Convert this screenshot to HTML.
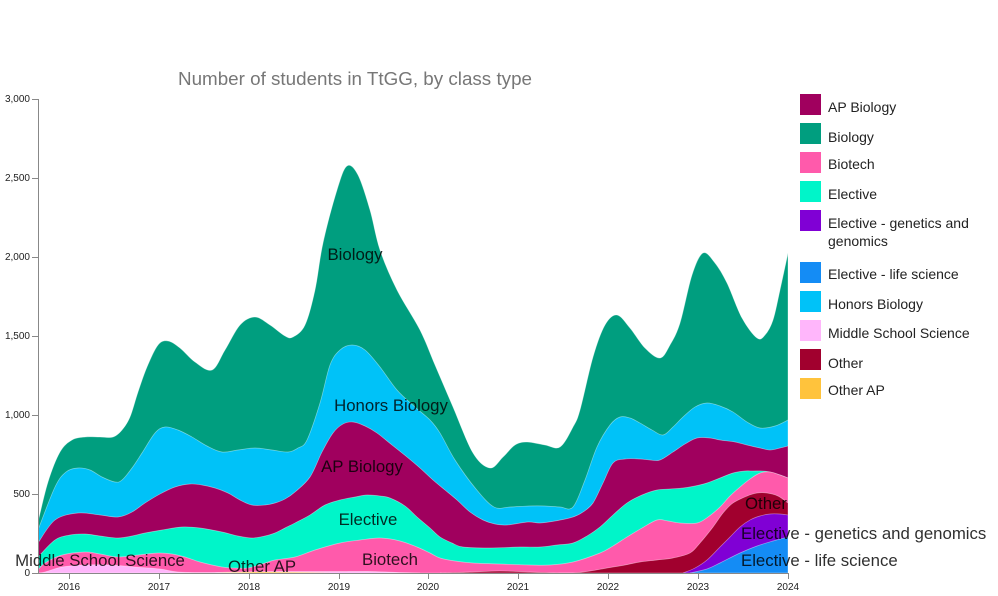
<!DOCTYPE html>
<html><head><meta charset="utf-8"><style>
html,body{margin:0;padding:0;background:#fff;}
svg{display:block;font-family:"Liberation Sans",Arial,sans-serif;}
</style></head><body>
<svg id="s" width="998" height="596" viewBox="0 0 998 596" xmlns="http://www.w3.org/2000/svg">
<defs>
<clipPath id="plot"><rect x="38" y="0" width="750" height="573"/></clipPath>
<clipPath id="plot2"><rect x="0" y="0" width="788" height="596"/></clipPath>
</defs>
<text x="355" y="85" text-anchor="middle" font-size="18.5" fill="#777" textLength="354" lengthAdjust="spacingAndGlyphs">Number of students in TtGG, by class type</text>
<g id="areas" clip-path="url(#plot)"></g>
<!-- y axis -->
<g stroke="#888" stroke-width="1" fill="none">
<path d="M32,99.5H38.5V573.5H32"/>
<path d="M32,178.5H38M32,257.5H38M32,336.5H38M32,415.5H38M32,494.5H38"/>
<path d="M38.5,573.5H788.5"/>
<path d="M69.5,573V579M159.5,573V579M249.5,573V579M339.5,573V579M428.5,573V579M518.5,573V579M608.5,573V579M698.5,573V579M788.5,573V579"/>
</g>
<g font-size="10" fill="#222" text-anchor="end">
<text x="30" y="102">3,000</text>
<text x="30" y="181">2,500</text>
<text x="30" y="260">2,000</text>
<text x="30" y="339">1,500</text>
<text x="30" y="418">1,000</text>
<text x="30" y="497">500</text>
<text x="30" y="576">0</text>
</g>
<g font-size="10" fill="#222" text-anchor="middle">
<text x="69" y="590">2016</text>
<text x="159" y="590">2017</text>
<text x="249" y="590">2018</text>
<text x="339" y="590">2019</text>
<text x="428" y="590">2020</text>
<text x="518" y="590">2021</text>
<text x="608" y="590">2022</text>
<text x="698" y="590">2023</text>
<text x="788" y="590">2024</text>
</g>
<!-- in-chart labels -->
<g font-size="16.8" fill="#000" fill-opacity="0.82">
<text x="355" y="260" text-anchor="middle">Biology</text>
<text x="391" y="411" text-anchor="middle">Honors Biology</text>
<text x="362" y="472" text-anchor="middle">AP Biology</text>
<text x="368" y="525" text-anchor="middle">Elective</text>
<text x="390" y="565" text-anchor="middle">Biotech</text>
<text x="100" y="566" text-anchor="middle">Middle School Science</text>
<text x="262" y="572" text-anchor="middle">Other AP</text>
<text x="745" y="509" clip-path="url(#plot2)">Other</text>
<text x="741" y="539">Elective - genetics and genomics</text>
<text x="741" y="566">Elective - life science</text>
</g>
<!-- legend -->
<g>
<rect x="800" y="94" width="21" height="21" fill="#a0005e"/>
<rect x="800" y="123" width="21" height="21" fill="#009e7f"/>
<rect x="800" y="152" width="21" height="21" fill="#ff5aab"/>
<rect x="800" y="181" width="21" height="21" fill="#00f5c9"/>
<rect x="800" y="210" width="21" height="21" fill="#8000d5"/>
<rect x="800" y="262" width="21" height="21" fill="#148cf5"/>
<rect x="800" y="291" width="21" height="21" fill="#00c2f8"/>
<rect x="800" y="320" width="21" height="21" fill="#ffb6fb"/>
<rect x="800" y="349" width="21" height="21" fill="#a1002e"/>
<rect x="800" y="378" width="21" height="21" fill="#ffc33c"/>
</g>
<g font-size="14" fill="#222">
<text x="828" y="112">AP Biology</text>
<text x="828" y="142">Biology</text>
<text x="828" y="169">Biotech</text>
<text x="828" y="199">Elective</text>
<text x="828" y="228">Elective - genetics and</text>
<text x="828" y="246">genomics</text>
<text x="828" y="279">Elective - life science</text>
<text x="828" y="309">Honors Biology</text>
<text x="828" y="338">Middle School Science</text>
<text x="828" y="368">Other</text>
<text x="828" y="395">Other AP</text>
</g>
</svg>
<script>
(function(){
var B=573;
var layers=[
["#009e7f",[[38,522],[48,482],[60,452],[72,440],[85,437],[100,437],[113,437],[122,430],[130,417],[138,392],[147,367],[158,345],[168,341],[180,348],[195,362],[212,370],[225,350],[240,325],[255,317],[270,325],[285,336],[293,337],[305,325],[315,290],[323,243],[337,190],[347,166],[358,175],[370,210],[380,250],[397,290],[420,330],[435,365],[453,407],[473,453],[490,468],[503,457],[515,445],[527,442],[545,445],[560,447],[573,427],[580,410],[593,357],[605,325],[617,315],[630,328],[645,348],[660,358],[670,345],[680,323],[692,275],[703,253],[715,263],[727,283],[742,318],[757,338],[765,335],[773,320],[780,290],[788,253]]],
["#00c2f8",[[38,530],[55,487],[66,472],[78,468],[90,470],[102,477],[115,482],[122,480],[132,468],[142,453],[155,433],[165,427],[178,430],[192,437],[207,446],[222,452],[238,450],[255,448],[272,450],[288,452],[298,448],[307,440],[320,403],[330,365],[340,350],[352,345],[365,350],[380,367],[397,390],[415,407],[430,420],[440,433],[455,460],[476,489],[494,507],[510,507],[529,506],[545,506],[560,507],[573,507],[585,480],[597,447],[610,425],[620,417],[630,418],[640,423],[652,430],[663,435],[673,427],[683,417],[695,407],[707,403],[720,406],[733,412],[747,422],[760,428],[775,426],[788,420]]],
["#a0005e",[[38,543],[55,520],[78,513],[100,515],[118,517],[132,512],[145,503],[160,494],[175,487],[190,484],[202,485],[215,488],[228,493],[240,500],[252,505],[265,505],[275,503],[285,499],[295,492],[310,477],[322,452],[333,433],[343,424],[353,422],[365,426],[377,433],[392,445],[407,457],[420,468],[433,480],[445,490],[457,500],[470,512],[483,520],[495,524],[507,525],[528,522],[540,523],[555,521],[573,517],[583,512],[593,503],[603,483],[613,463],[625,459],[640,459],[650,460],[660,460],[673,452],[685,444],[697,438],[710,438],[720,440],[735,442],[747,445],[760,448],[770,450],[780,448],[788,446]]],
["#00f5c9",[[38,557],[55,540],[70,535],[85,534],[100,536],[118,538],[132,536],[145,533],[162,530],[182,527],[200,528],[222,532],[238,536],[252,538],[265,536],[275,533],[285,528],[295,523],[310,515],[325,505],[340,500],[355,497],[367,495],[380,496],[390,498],[405,506],[417,517],[430,528],[440,537],[452,543],[463,547],[490,548],[520,547],[540,547],[557,545],[573,543],[587,536],[600,527],[613,515],[627,503],[642,495],[657,490],[670,489],[683,488],[695,486],[707,483],[720,478],[733,473],[745,471],[753,471],[762,471],[770,472],[780,475],[788,478]]],
["#ff5aab",[[38,570],[45,563],[62,555],[85,552],[100,554],[118,557],[138,555],[158,553],[172,554],[185,557],[200,562],[222,567],[235,568],[248,568],[262,564],[275,560],[295,557],[315,550],[340,543],[360,540],[380,538],[400,541],[417,547],[430,553],[440,558],[455,561],[473,563],[500,564],[530,565],[550,565],[573,562],[600,553],[613,546],[627,537],[642,528],[657,520],[668,521],[680,523],[697,523],[708,517],[720,507],[730,496],[740,487],[750,479],[760,473],[770,472],[780,475],[788,478]]],
["#ffb6fb",[[38,573],[45,572],[62,567],[85,565],[110,565],[135,567],[160,569],[178,572],[208,572.5],[240,572],[290,571.5],[340,571.5],[370,571.5],[400,572.5],[420,573]]],
["#ffc33c",[[215,573],[240,572.2],[270,572],[300,572.3],[330,573]]],
["#a1002e",[[440,573],[470,572],[500,571],[530,572],[560,573],[573,573],[590,571],[607,568],[625,565],[640,562],[657,560],[673,558],[690,553],[700,543],[713,527],[723,513],[733,503],[747,496],[757,493],[767,493],[778,496],[788,503]]],
["#8000d5",[[683,573],[695,568],[707,560],[720,547],[730,537],[740,527],[750,520],[760,516],[770,514],[780,514],[788,515]]],
["#148cf5",[[690,573],[707,569],[720,563],[740,553],[757,546],[773,541],[788,537]]]
];
function pathFor(p){
 var d="M"+p[0][0]+","+B+"L"+p[0][0]+","+p[0][1];
 for(var i=0;i<p.length-1;i++){
  var p0=p[i>0?i-1:i],p1=p[i],p2=p[i+1],p3=p[i+2<p.length?i+2:i+1];
  var c1x=p1[0]+(p2[0]-p0[0])/6,c1y=p1[1]+(p2[1]-p0[1])/6;
  var c2x=p2[0]-(p3[0]-p1[0])/6,c2y=p2[1]-(p3[1]-p1[1])/6;
  d+="C"+c1x.toFixed(2)+","+c1y.toFixed(2)+" "+c2x.toFixed(2)+","+c2y.toFixed(2)+" "+p2[0]+","+p2[1];
 }
 d+="L"+p[p.length-1][0]+","+B+"Z";
 return d;
}
var g=document.getElementById("areas");
var ns="http://www.w3.org/2000/svg";
layers.forEach(function(l){
 var e=document.createElementNS(ns,"path");
 e.setAttribute("d",pathFor(l[1]));
 e.setAttribute("fill",l[0]);
 e.setAttribute("stroke","#ffffff");
 e.setAttribute("stroke-opacity","0.45");
 e.setAttribute("stroke-width","0.7");
 g.appendChild(e);
});
})();
</script>
</body></html>
